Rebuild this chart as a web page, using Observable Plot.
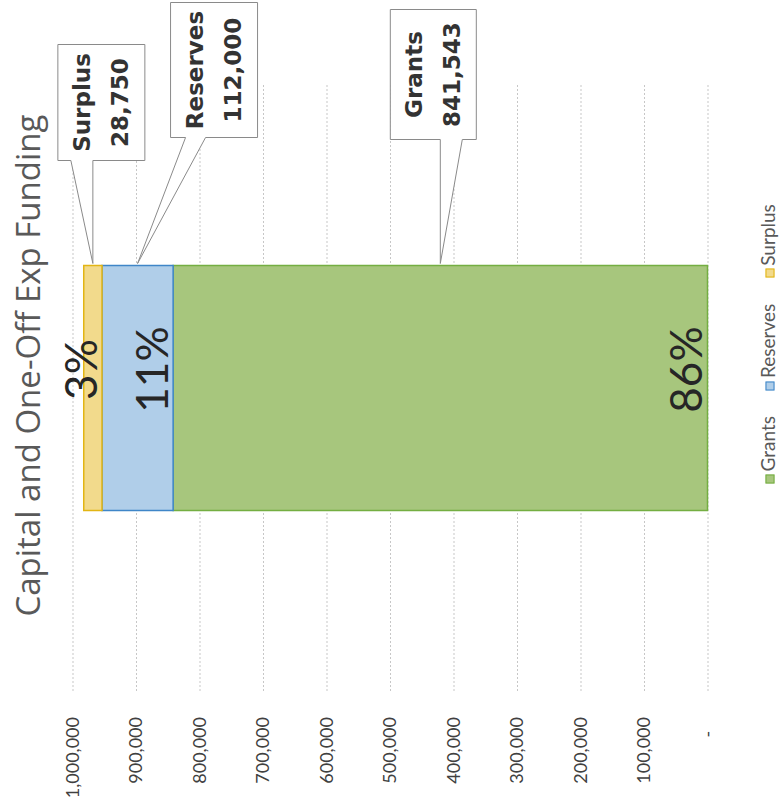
<!DOCTYPE html>
<html><head><meta charset="utf-8">
<script src="https://cdn.jsdelivr.net/npm/d3@7"></script>
<script src="https://cdn.jsdelivr.net/npm/@observablehq/plot@0.6"></script>
<style>
html,body{margin:0;padding:0;background:#fff;}
body{width:783px;height:810px;overflow:hidden;position:relative;}
#wrap{position:absolute;left:-13.5px;top:13.5px;width:810px;height:783px;transform:rotate(-90deg);transform-origin:50% 50%;}
#chart{position:absolute;left:0;top:0;}
#title{position:absolute;left:80px;width:730px;top:10px;text-align:center;font-family:"Open Sans";font-size:33px;line-height:33px;color:#595959;white-space:nowrap;}
#legend{position:absolute;left:327px;top:757px;display:flex;gap:26px;font-family:Lato;font-size:19px;line-height:19px;color:#595959;white-space:nowrap;}
.item{display:flex;align-items:baseline;gap:3px;}
.sw{display:inline-block;width:9px;height:9px;box-sizing:border-box;border:1px solid;}
</style></head>
<body>
<div id="wrap"><div id="chart"></div><div id="title"></div><div id="legend"></div></div>
<script>
// ---- data ----
const chartTitle = "Capital and One-Off Exp Funding";
const category = "Capital and One-Off Exp";
const seriesNames = ["Grants", "Reserves", "Surplus"];
const seriesValues = [841543, 112000, 28750];
const yTickValues = [0, 100000, 200000, 300000, 400000, 500000, 600000, 700000, 800000, 900000, 1000000];

// ---- styles ----
const fillColors = ["#a7c67d", "#b0cee9", "#f2da8c"];
const strokeColors = ["#74ae42", "#3f86c8", "#e2b514"];
// callout box layout relative to the tip (pixels)
const calloutLayout = [
  {series: "Grants",   du: 124, dv: -50, w: 130, h: 86, b1: 0,   b2: 22},
  {series: "Reserves", du: 126, dv: 33,  w: 135, h: 87, b1: 48,  b2: 68},
  {series: "Surplus",  du: 103, dv: -35, w: 116, h: 87, b1: -22, b2: 0}
];

const total = d3.sum(seriesValues);
const rows = seriesNames.map((s, i) => ({
  cat: category, series: s, value: seriesValues[i],
  pct: Math.round(seriesValues[i] / total * 100) + "%"
}));
const colorOf = d => fillColors[seriesNames.indexOf(d.series)];
const strokeOf = d => strokeColors[seriesNames.indexOf(d.series)];
const fmt = d3.format(",");
const tickFmt = d => d === 0 ? "-\u00A0\u00A0\u00A0" : fmt(d);

const chart = Plot.plot({
  width: 810, height: 783,
  marginLeft: 120, marginRight: 85, marginTop: 72, marginBottom: 76,
  style: {fontFamily: "Lato", fontSize: "18px", color: "#404040", background: "transparent", overflow: "visible"},
  x: {domain: [category], axis: null, padding: 0.4235},
  y: {domain: [0, 1000000], ticks: yTickValues, tickFormat: tickFmt, tickSize: 0, tickPadding: 27, label: null},
  color: {type: "identity"},
  marks: [
    Plot.ruleY(yTickValues, {stroke: "#8f8f8f", strokeDasharray: "1,3", strokeWidth: 1}),
    Plot.barY(rows, {x: "cat", y: "value", fill: colorOf, stroke: strokeOf, strokeWidth: 1.5}),
    Plot.text(rows, Plot.stackY1({x: "cat", y: "value", text: "pct", lineAnchor: "bottom",
      dx: 18, dy: -6, fontFamily: "Lato", fontSize: 44, fill: "#262626"}))
  ]
});
document.getElementById("chart").appendChild(chart);

// ---- callouts, positioned through the plot's scales ----
const sx = chart.scale("x"), sy = chart.scale("y");
const xRight = sx.apply(category) + sx.bandwidth;
let cum = 0;
const mids = seriesValues.map(v => { const m = cum + v / 2; cum += v; return m; });
const g = d3.select(chart).append("g");
calloutLayout.forEach(c => {
  const i = seriesNames.indexOf(c.series);
  const tx = xRight + 2, ty = sy.apply(mids[i]);
  const L = tx + c.du, T = ty + c.dv, R = L + c.w, B = T + c.h;
  g.append("path")
    .attr("d", `M${L},${T}H${R}V${B}H${L}V${ty + c.b2}L${tx},${ty}L${L},${ty + c.b1}Z`)
    .attr("fill", "#fff").attr("stroke", "#8a8a8a").attr("stroke-width", 1);
  const cx = (L + R) / 2;
  g.append("text").attr("x", cx).attr("y", T + 32).attr("text-anchor", "middle")
    .attr("font-family", "DejaVu Sans").attr("font-weight", "bold").attr("font-size", 23)
    .attr("fill", "#333").text(seriesNames[i]);
  g.append("text").attr("x", cx).attr("y", T + 70).attr("text-anchor", "middle")
    .attr("font-family", "DejaVu Sans").attr("font-weight", "bold").attr("font-size", 23)
    .attr("fill", "#333").text(fmt(seriesValues[i]));
});

// ---- title & legend ----
document.getElementById("title").textContent = chartTitle;
const leg = document.getElementById("legend");
seriesNames.forEach((s, i) => {
  const item = document.createElement("div"); item.className = "item";
  const sw = document.createElement("span"); sw.className = "sw";
  sw.style.background = fillColors[i]; sw.style.borderColor = strokeColors[i];
  const t = document.createElement("span"); t.textContent = s;
  item.appendChild(sw); item.appendChild(t); leg.appendChild(item);
});
</script>
</body></html>
